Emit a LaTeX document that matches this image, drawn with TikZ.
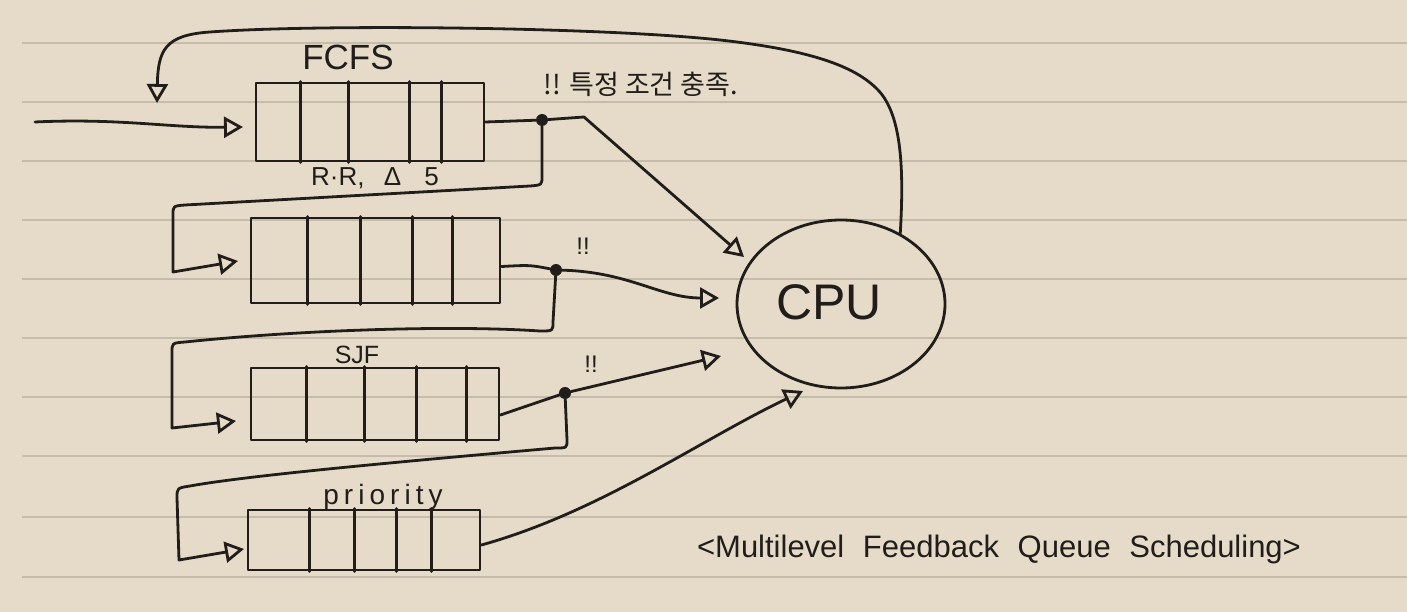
\documentclass[tikz,border=0pt]{standalone}
\usepackage{fontspec}
\setmainfont{Liberation Sans}
\newfontfamily\krfont{Noto Sans CJK KR}
\usetikzlibrary{arrows.meta,shapes.geometric}
\definecolor{paper}{RGB}{230,219,200}
\definecolor{ruleline}{RGB}{198,188,172}
\definecolor{ink}{RGB}{32,29,26}
\tikzset{
  inkline/.style={draw=ink, line width=2.8pt, line cap=round, line join=round},
  queue/.style={inkline, rectangle, inner sep=0pt},
  arr/.style={inkline, -{Triangle[open, length=19pt, width=21pt]}},
  dotnode/.style={circle, fill=ink, inner sep=0pt, minimum size=12pt},
  lbl/.style={text=ink, inner sep=0pt},
}
\begin{document}
\begin{tikzpicture}[x=1pt,y=-1pt]
\fill[paper] (0,0) rectangle (1407,612);
\useasboundingbox (0,0) rectangle (1407,612);
\foreach \yy in {43,102,161,220,279,338,397,456,517,577}
  \draw[ruleline, line width=1.5pt] (22,\yy) -- (1407,\yy);

% queues
\node[queue, minimum width=228pt, minimum height=78pt] (q1) at (370,122) {};
\node[queue, minimum width=249pt, minimum height=85pt] (q2) at (375.5,260.5) {};
\node[queue, minimum width=248pt, minimum height=72pt] (q3) at (375,404) {};
\node[queue, minimum width=232pt, minimum height=60pt] (q4) at (364,540) {};
\foreach \o in {46,94,155,187}
  \draw[inkline] ([xshift=\o pt]q1.north west) -- ([xshift=\o pt]q1.south west);
\foreach \o in {58,111,163,203}
  \draw[inkline] ([xshift=\o pt]q2.north west) -- ([xshift=\o pt]q2.south west);
\foreach \o in {57,115,167,217}
  \draw[inkline] ([xshift=\o pt]q3.north west) -- ([xshift=\o pt]q3.south west);
\foreach \o in {63,108,150,185}
  \draw[inkline] ([xshift=\o pt]q4.north west) -- ([xshift=\o pt]q4.south west);

% CPU
\node[inkline, ellipse, minimum width=208pt, minimum height=168pt, inner sep=0pt] (cpu) at (841,304) {};
\node[lbl, font=\fontsize{50}{52}\selectfont] (cputxt) at (829,302) {CPU};

% dots
\node[dotnode] (d1) at (542,120) {};
\node[dotnode] (d2) at (556,270) {};
\node[dotnode] (d3) at (565,393) {};

% free ends
\coordinate (in) at (35,122);
\coordinate (t1) at (243,127);
\coordinate (t2) at (238,261);
\coordinate (t3) at (236,421);
\coordinate (t4) at (244,549);
\coordinate (a1) at (744,257);
\coordinate (a2) at (719,298);
\coordinate (a3) at (721,356);
\coordinate (a4) at (803,391);
\coordinate (fbtip) at (157,103);

% input
\draw[arr] (in) .. controls (120,118) and (170,128) .. (t1);
% FCFS out
\draw[inkline] (q1.east) -- (d1);
\draw[arr] (d1) -- (584,117) -- (a1);
\draw[arr] (d1) -- (542,176) .. controls (542,185) .. (530,186)
  -- (185,205) .. controls (173,206) .. (173,215) -- (173,272) -- (t2);
% RR out
\draw[inkline] ([yshift=-6pt]q2.east) .. controls (530,265) .. (d2);
\draw[arr] (d2) .. controls (630,272) and (660,298) .. (a2);
\draw[arr] (d2) -- (553,322) .. controls (553,331) .. (540,331)
  .. controls (450,325) and (300,330) .. (185,342) .. controls (172,343) .. (172,352) -- (172,428) -- (t3);
% SJF out
\draw[inkline] ([yshift=-11pt]q3.east) -- (d3);
\draw[arr] (d3) -- (a3);
\draw[arr] (d3) -- (567,440) .. controls (567,448) .. (555,448)
  .. controls (420,460) and (250,475) .. (190,486) .. controls (177,488) .. (177,498) -- (179,560) -- (t4);
% priority out
\draw[arr] ([yshift=-5pt]q4.east) .. controls (600,512) and (700,440) .. (a4);
% feedback
\draw[arr] (cpu.50) .. controls (904,170) and (902,115) .. (878,90)
  .. controls (855,66) and (810,50) .. (720,40)
  .. controls (600,27) and (320,24) .. (210,32)
  .. controls (165,35) and (158,50) .. (fbtip);

% labels
\node[lbl, font=\fontsize{35}{37}\selectfont] (lfcfs) at (348,57) {FCFS};
\node[lbl, font=\fontsize{26}{28}\selectfont] (lrr) at (375,178) {R·R,\hspace{12pt} Δ\hspace{16pt} 5};
\node[lbl, font=\fontsize{25}{27}\selectfont] (lsjf) at (357,355) {SJF};
\node[lbl, font=\fontsize{28}{30}\selectfont\addfontfeature{LetterSpace=18}] (lpri) at (383,497) {priority};
\node[lbl, font=\fontsize{27}{29}\selectfont\krfont] (lcond) at (641,84) {!! 특정 조건 충족.};
\node[lbl, font=\fontsize{24}{26}\selectfont] (lx2) at (583,246) {!!};
\node[lbl, font=\fontsize{24}{26}\selectfont] (lx3) at (591,364) {!!};
\node[lbl, font=\fontsize{31}{33}\selectfont] (lcap) at (999,549) {<Multilevel\hspace{10pt} Feedback\hspace{10pt} Queue\hspace{10pt} Scheduling>};
\end{tikzpicture}
\end{document}
